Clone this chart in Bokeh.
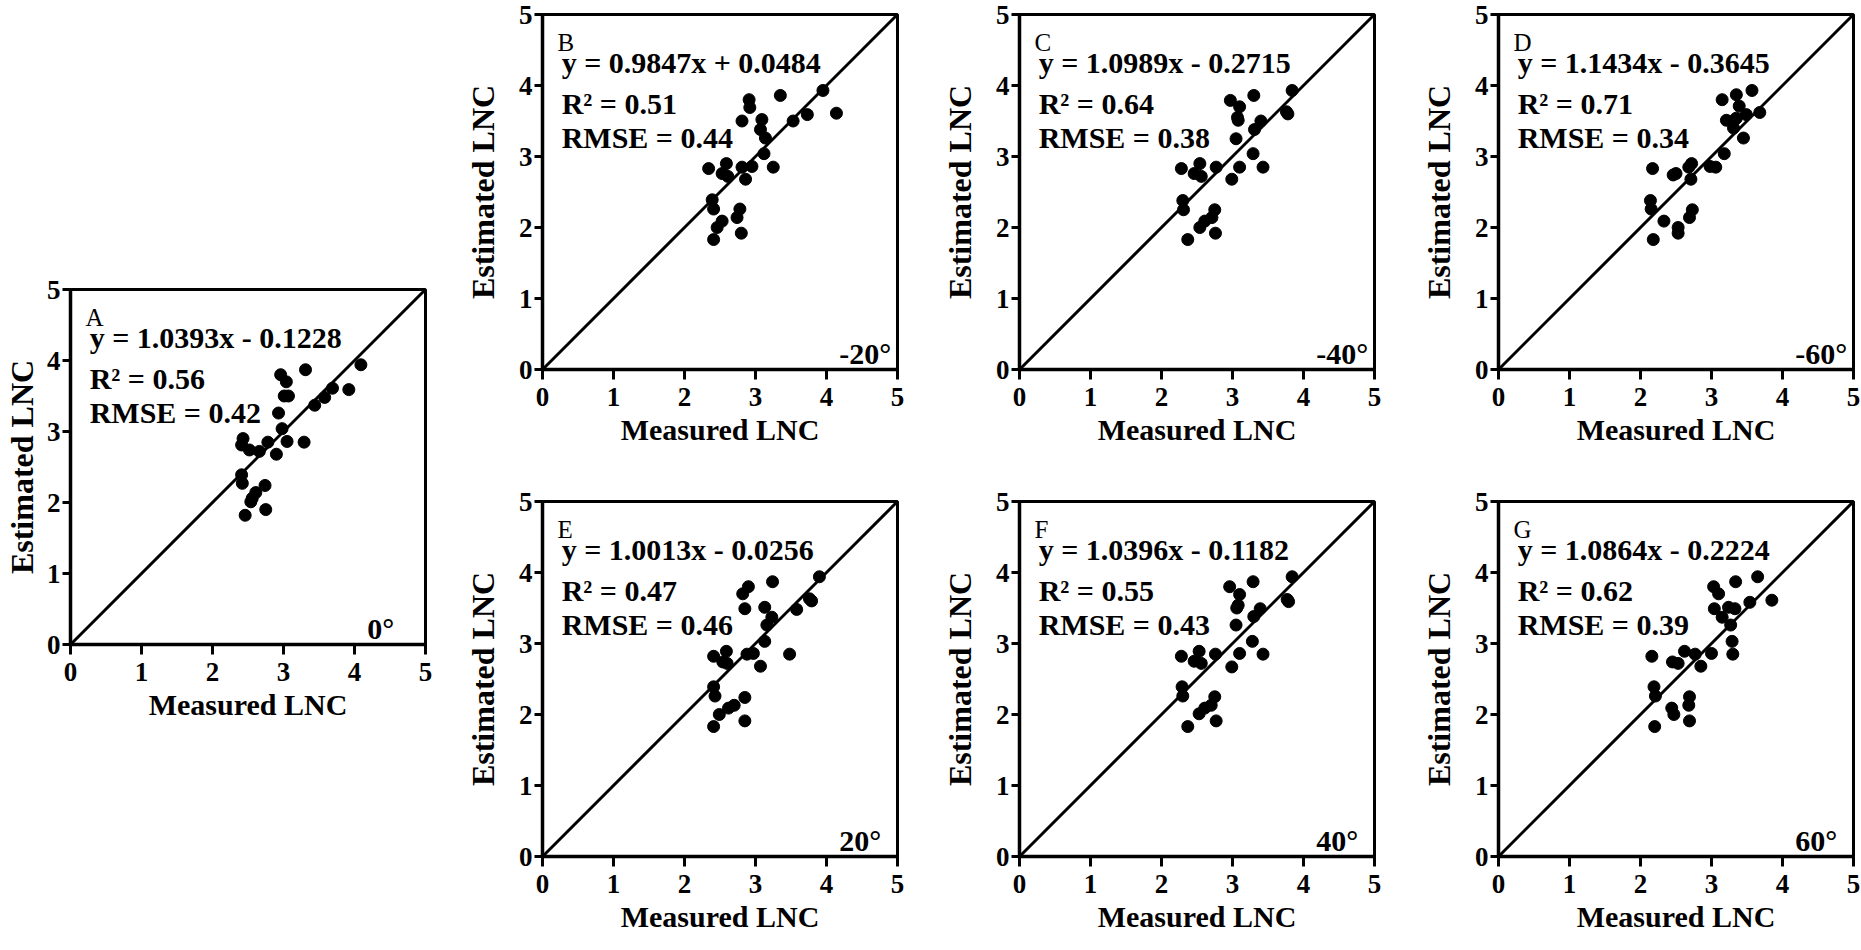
from bokeh.plotting import figure
from bokeh.layouts import row, column
from bokeh.models import Range1d, Slope, FixedTicker
from bokeh.core.properties import value
from bokeh.embed import file_html
from bokeh.resources import INLINE

FONT = "Liberation Serif"

# ---- data ----
panel_letters = ["A", "B", "C", "D", "E", "F", "G"]
angle_labels = ["0°", "-20°", "-40°", "-60°", "20°", "40°", "60°"]
slopes = [1.0393, 0.9847, 1.0989, 1.1434, 1.0013, 1.0396, 1.0864]
intercepts = [-0.1228, 0.0484, -0.2715, -0.3645, -0.0256, -0.1182, -0.2224]
r2_values = [0.56, 0.51, 0.64, 0.71, 0.47, 0.55, 0.62]
rmse_values = [0.42, 0.44, 0.38, 0.34, 0.46, 0.43, 0.39]
tick_values = [0, 1, 2, 3, 4, 5]

a_x = [4.09, 3.31, 2.96, 3.04, 3.92, 3.69, 3.58, 3.01, 3.07, 3.44, 2.93, 2.98, 3.29, 3.05,
       2.78, 2.43, 2.41, 2.52, 2.66, 2.90, 2.41, 2.42, 2.74, 2.61, 2.56, 2.54, 2.75, 2.46]
a_y = [3.94, 3.87, 3.80, 3.70, 3.59, 3.61, 3.48, 3.50, 3.50, 3.37, 3.26, 3.04, 2.85, 2.86,
       2.85, 2.90, 2.81, 2.74, 2.72, 2.68, 2.39, 2.27, 2.24, 2.14, 2.06, 2.01, 1.90, 1.82]

b_x = [3.95, 3.35, 2.91, 2.92, 4.14, 3.73, 3.53, 2.81, 3.09, 3.07, 3.14, 3.12, 3.25, 2.95,
       2.81, 2.59, 2.34, 2.53, 2.61, 2.86, 2.39, 2.41, 2.78, 2.74, 2.53, 2.46, 2.80, 2.41]
b_y = [3.93, 3.86, 3.80, 3.69, 3.61, 3.59, 3.50, 3.50, 3.52, 3.38, 3.26, 3.04, 2.85, 2.86,
       2.85, 2.90, 2.83, 2.76, 2.72, 2.68, 2.39, 2.26, 2.26, 2.14, 2.09, 2.00, 1.92, 1.83]

c_x = [3.84, 3.30, 2.97, 3.10, 3.78, 3.76, 3.40, 3.08, 3.31, 3.05, 3.29, 3.43, 3.10, 2.77,
       2.54, 2.28, 2.46, 2.56, 2.99, 2.30, 2.31, 2.75, 2.71, 2.61, 2.54, 2.76, 2.37, 3.07]
c_y = [3.93, 3.86, 3.79, 3.70, 3.60, 3.63, 3.50, 3.51, 3.38, 3.25, 3.04, 2.85, 2.85, 2.85,
       2.90, 2.83, 2.76, 2.72, 2.68, 2.38, 2.25, 2.25, 2.14, 2.09, 2.00, 1.92, 1.83, 3.55]

d_x = [3.57, 3.35, 3.15, 3.39, 3.68, 3.49, 3.21, 3.33, 3.31, 3.45, 3.18, 2.98, 3.06, 2.72,
       2.68, 2.17, 2.46, 2.50, 2.71, 2.14, 2.15, 2.73, 2.69, 2.33, 2.53, 2.53, 2.18, 3.35]
d_y = [3.93, 3.87, 3.80, 3.71, 3.62, 3.59, 3.51, 3.52, 3.40, 3.26, 3.04, 2.86, 2.85, 2.90,
       2.85, 2.83, 2.74, 2.76, 2.68, 2.38, 2.26, 2.25, 2.14, 2.09, 2.00, 1.92, 1.83, 3.54]

e_x = [3.90, 3.24, 2.90, 2.82, 3.79, 3.76, 3.58, 3.13, 2.85, 3.23, 3.16, 3.13, 3.48, 2.97,
       2.88, 2.59, 2.41, 2.54, 2.60, 3.07, 2.41, 2.43, 2.85, 2.70, 2.62, 2.49, 2.85, 2.41]
e_y = [3.94, 3.87, 3.80, 3.70, 3.60, 3.63, 3.48, 3.51, 3.49, 3.37, 3.26, 3.03, 2.85, 2.86,
       2.85, 2.89, 2.82, 2.74, 2.72, 2.68, 2.39, 2.26, 2.24, 2.13, 2.09, 2.00, 1.91, 1.83]

f_x = [3.84, 3.29, 2.96, 3.10, 3.79, 3.77, 3.39, 3.06, 3.30, 3.05, 3.28, 3.43, 3.10, 2.76,
       2.53, 2.28, 2.46, 2.56, 2.99, 2.29, 2.30, 2.75, 2.70, 2.61, 2.53, 2.77, 2.37, 3.08]
f_y = [3.94, 3.87, 3.80, 3.69, 3.59, 3.62, 3.49, 3.50, 3.38, 3.26, 3.03, 2.85, 2.86, 2.85,
       2.89, 2.82, 2.75, 2.72, 2.67, 2.39, 2.26, 2.25, 2.13, 2.09, 2.01, 1.91, 1.83, 3.54]

g_x = [3.65, 3.34, 3.03, 3.10, 3.85, 3.54, 3.33, 3.04, 3.24, 3.15, 3.27, 3.29, 3.30, 3.00,
       2.77, 2.62, 2.16, 2.45, 2.53, 2.85, 2.19, 2.21, 2.69, 2.68, 2.44, 2.47, 2.69, 2.20]
g_y = [3.94, 3.87, 3.80, 3.70, 3.61, 3.58, 3.49, 3.49, 3.51, 3.37, 3.26, 3.03, 2.85, 2.86,
       2.85, 2.89, 2.82, 2.74, 2.72, 2.68, 2.39, 2.26, 2.25, 2.13, 2.09, 2.00, 1.91, 1.83]

panel_x = [a_x, b_x, c_x, d_x, e_x, f_x, g_x]
panel_y = [a_y, b_y, c_y, d_y, e_y, f_y, g_y]


def eq_text(s, b):
    sign = "+" if b >= 0 else "-"
    return f"y = {s:.4f}x {sign} {abs(b):.4f}"


def make_panel(i, left, right, top, bottom, ylabel_standoff):
    p = figure(frame_width=355, frame_height=355,
               min_border_left=left, min_border_right=right,
               min_border_top=top, min_border_bottom=bottom,
               x_range=Range1d(0, 5), y_range=Range1d(0, 5),
               output_backend="svg", toolbar_location=None,
               background_fill_color="white", border_fill_color="white")
    p.xgrid.visible = False
    p.ygrid.visible = False
    p.outline_line_color = "black"
    p.outline_line_width = 3
    p.outline_line_alpha = 1

    for ax in (p.xaxis[0], p.yaxis[0]):
        ax.ticker = FixedTicker(ticks=tick_values)
        ax.axis_line_width = 3.5
        ax.axis_line_color = "black"
        ax.major_tick_line_width = 3
        ax.major_tick_line_color = "black"
        ax.major_tick_in = 0
        ax.minor_tick_line_color = None
        ax.major_label_text_font = FONT
        ax.major_label_text_font_style = "bold"
        ax.major_label_text_font_size = "27px"
        ax.major_label_text_color = "black"
        ax.axis_label_text_font = FONT
        ax.axis_label_text_font_style = "bold"
        ax.axis_label_text_color = "black"

    p.xaxis.axis_label = "Measured LNC"
    p.xaxis.axis_label_text_font_size = "30px"
    p.xaxis.major_tick_out = 10
    p.xaxis.major_label_standoff = 8
    p.xaxis.axis_label_standoff = 4

    p.yaxis.axis_label = "Estimated LNC"
    p.yaxis.axis_label_text_font_size = "32px"
    p.yaxis.major_tick_out = 8
    p.yaxis.major_label_standoff = 2
    p.yaxis.axis_label_standoff = ylabel_standoff

    p.add_layout(Slope(gradient=1, y_intercept=0, line_color="black", line_width=3))

    p.scatter(panel_x[i], panel_y[i], size=12, marker="circle",
              fill_color="black", line_color="black")

    p.text(x=[0.21], y=[4.61], text=[panel_letters[i]],
           text_font=value(FONT), text_font_size="25px",
           text_color="black", text_baseline="alphabetic")
    p.text(x=[0.27, 0.27, 0.27], y=[4.32, 3.75, 3.27],
           text=[eq_text(slopes[i], intercepts[i]),
                 f"R² = {r2_values[i]:.2f}",
                 f"RMSE = {rmse_values[i]:.2f}"],
           text_font=value(FONT), text_font_style="bold", text_font_size="30px",
           text_color="black", text_baseline="alphabetic")
    p.text(x=[4.18], y=[0.23], text=[angle_labels[i]],
           text_font=value(FONT), text_font_style="bold", text_font_size="30px",
           text_color="black", text_baseline="alphabetic")
    return p


pa = make_panel(0, 60, 36, 289, 86, 4)
pb = make_panel(1, 80, 41, 14, 118, 15)
pc = make_panel(2, 80, 43, 14, 118, 15)
pd = make_panel(3, 80, 10, 14, 118, 15)
pe = make_panel(4, 80, 41, 14, 86, 15)
pf = make_panel(5, 80, 43, 14, 86, 15)
pg = make_panel(6, 80, 10, 14, 86, 15)

layout = row(pa, column(pb, pe), column(pc, pf), column(pd, pg))

open("out.html", "w").write(file_html(layout, INLINE))
